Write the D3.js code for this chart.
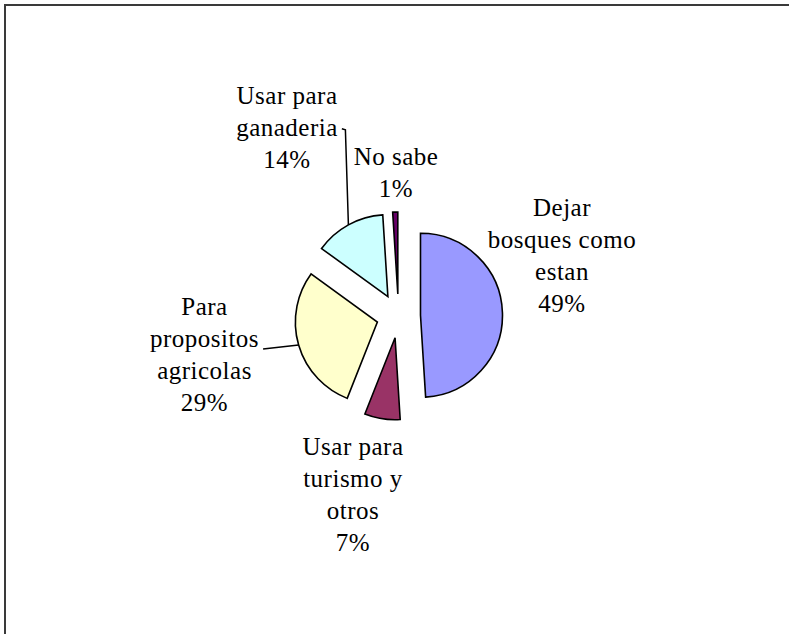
<!DOCTYPE html>
<html>
<head>
<meta charset="utf-8">
<script src="https://cdn.jsdelivr.net/npm/d3@7"></script>
<style>
    body { margin: 0; background: #ffffff; }
    svg { display: block; }
    .sliceLabel { font-family: "Liberation Serif", "Times New Roman", serif; font-size: 25px; letter-spacing: 0.5px; fill: #000; }
</style>
</head>
<body>
<div id="chart"></div>
<script>
// data
const categories = ["Dejar bosques como estan", "Usar para turismo y otros", "Para propositos agricolas", "Usar para ganaderia", "No sabe"];
const values = [49, 7, 29, 14, 1];
const labelLines = [
    ["Dejar", "bosques como", "estan", "49%"],
    ["Usar para", "turismo y", "otros", "7%"],
    ["Para", "propositos", "agricolas", "29%"],
    ["Usar para", "ganaderia", "14%"],
    ["No sabe", "1%"]
];
const sliceColors = ["#9999ff", "#993366", "#ffffcc", "#ccffff", "#660066"];

// layout (pixels)
const size = {width: 789, height: 634};
const center = {x: 398.5, y: 316};
const radius = 82;
const explode = 22;
const lineHeight = 32;
// label block centres, relative to the pie centre
const labelOffsets = [[163.5, -60.5], [-45.5, 178.5], [-194, 39], [-111.5, -188.3], [-2.5, -143]];
// which text line the leader line leaves from (-1 = none)
const leaderLine = [-1, -1, 1, 1, -1];

const svg = d3.select("#chart").append("svg")
    .attr("width", size.width)
    .attr("height", size.height);

// chart area frame (runs off the right and bottom of the picture)
svg.append("rect")
    .attr("x", 5)
    .attr("y", 5)
    .attr("width", size.width + 20)
    .attr("height", size.height + 20)
    .attr("fill", "none")
    .attr("stroke", "#3a3a3a")
    .attr("stroke-width", 2);

const pie = d3.pie().sort(null).value(d => d.value);
const arcs = pie(categories.map((c, i) => ({name: c, value: values[i], index: i})));
const arc = d3.arc().innerRadius(0).outerRadius(radius);

const shift = d => {
    const mid = (d.startAngle + d.endAngle) / 2;
    return [Math.sin(mid) * explode, -Math.cos(mid) * explode];
};

const pieG = svg.append("g")
    .attr("transform", "translate(" + center.x + "," + center.y + ")");

pieG.selectAll(".slice")
    .data(arcs)
    .join("path")
    .attr("class", "slice")
    .attr("transform", d => "translate(" + shift(d) + ")")
    .attr("d", arc)
    .attr("fill", d => sliceColors[d.data.index])
    .attr("stroke", "#000")
    .attr("stroke-width", 1.6)
    .attr("stroke-linejoin", "miter");

// labels
const labelG = pieG.selectAll(".labelG")
    .data(arcs)
    .join("g")
    .attr("class", "labelG");

labelG.each(function(d){
    const i = d.data.index;
    const lines = labelLines[i];
    const [ox, oy] = labelOffsets[i];
    const firstBase = oy - (lines.length - 1) / 2 * lineHeight + 8;
    const t = d3.select(this).append("text")
        .attr("class", "sliceLabel")
        .attr("text-anchor", "middle");
    const spans = t.selectAll("tspan")
        .data(lines)
        .join("tspan")
        .attr("x", ox)
        .attr("y", (l, k) => firstBase + k * lineHeight)
        .text(l => l);

    const li = leaderLine[i];
    if(li >= 0){
        const lineW = spans.nodes()[li].getComputedTextLength();
        const mid = (d.startAngle + d.endAngle) / 2;
        const [sx, sy] = shift(d);
        const px = sx + Math.sin(mid) * radius;
        const py = sy - Math.cos(mid) * radius;
        const startX = ox + lineW / 2 + 4;
        const startY = firstBase + li * lineHeight - 7;
        const pts = i === 3
            ? [[startX, startY], [px - 3, startY + 1], [px, py]]
            : [[startX, startY + 9], [px, py]];
        d3.select(this).append("path")
            .attr("d", d3.line()(pts))
            .attr("fill", "none")
            .attr("stroke", "#000")
            .attr("stroke-width", 1.5);
    }
});
</script>
</body>
</html>
